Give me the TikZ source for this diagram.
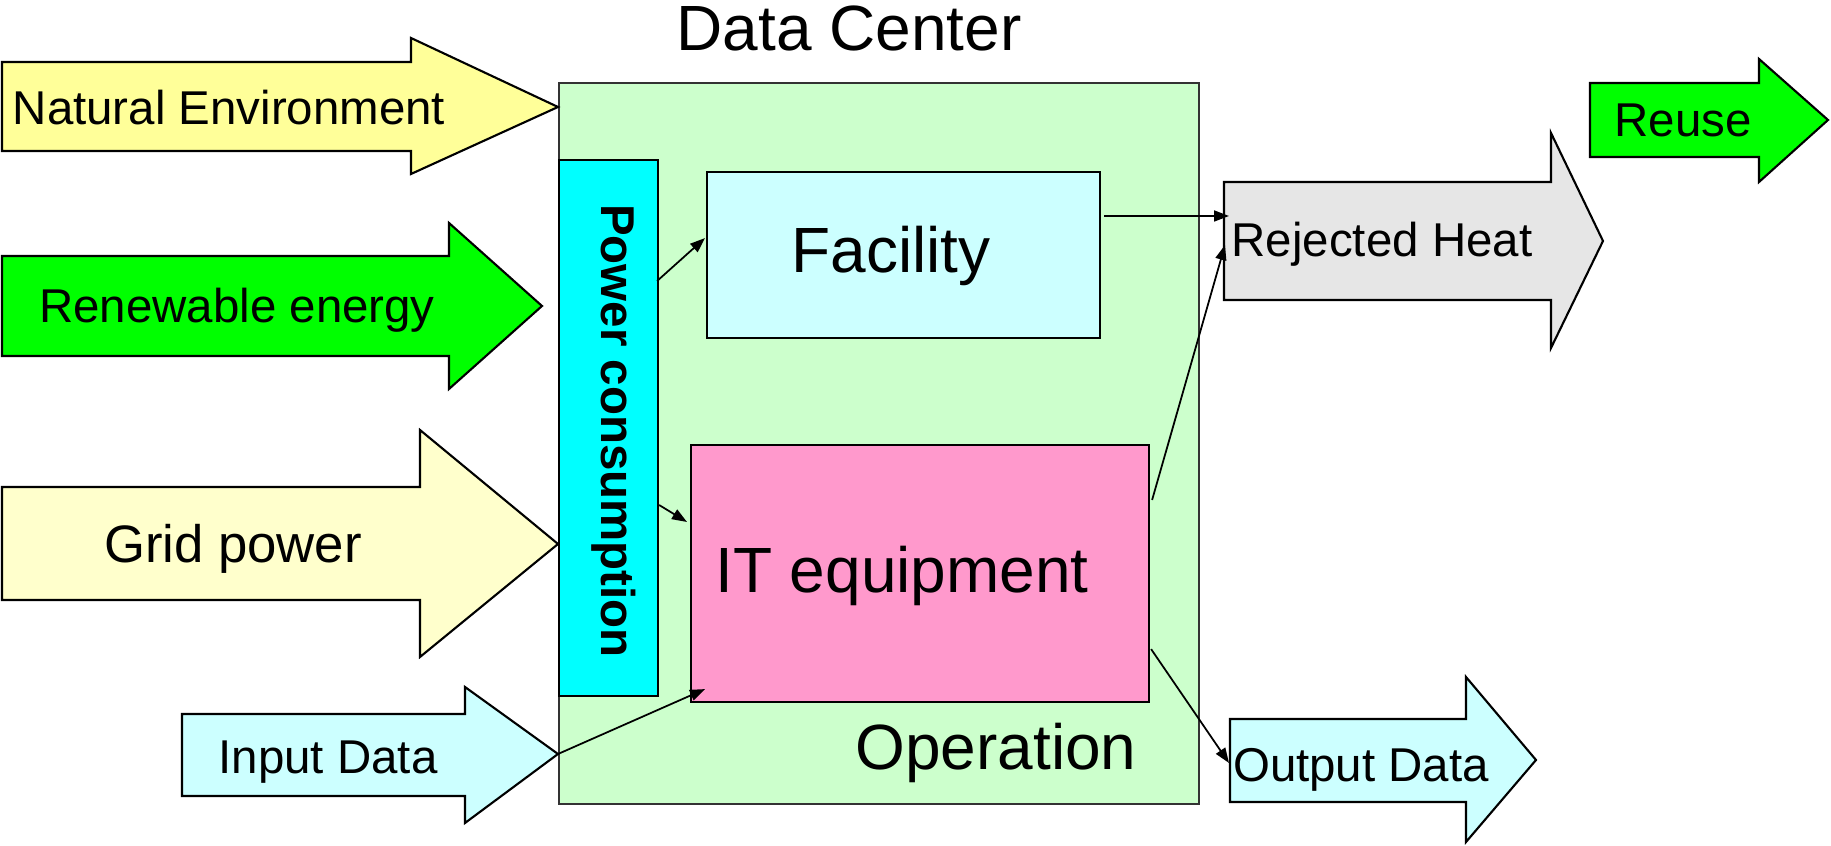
\documentclass[tikz,border=0pt]{standalone}
\usepackage{fontspec}
\setmainfont{Liberation Sans}
\usepackage{xcolor}
\usepackage{tikz}
\usetikzlibrary{arrows.meta,calc}

\definecolor{natyel}{HTML}{FFFF99}
\definecolor{gridyel}{HTML}{FFFFCC}
\definecolor{leafgreen}{HTML}{00FF00}
\definecolor{dcgreen}{HTML}{CCFFCC}
\definecolor{palecyan}{HTML}{CCFFFF}
\definecolor{pccyan}{HTML}{00FFFF}
\definecolor{itpink}{HTML}{FF99CC}
\definecolor{heatgray}{HTML}{E6E6E6}

\begin{document}
\begin{tikzpicture}[
  x=0.1mm, y=-0.1mm,
  box/.style={rectangle, draw=black, line width=0.6pt, fill=#1, inner sep=0pt, anchor=north west},
  flow/.style={draw=black, line width=0.6pt, fill=#1},
  big/.style={font=\fontsize{18.2}{22}\selectfont, inner sep=0pt, anchor=base},
  lab/.style={font=\fontsize{13.5}{16}\selectfont, inner sep=0pt, anchor=base},
  ar/.style={-{Triangle[length=1.5mm,width=1.1mm]}, line width=0.5pt}]
  \useasboundingbox (0,0) rectangle (1831,846);
  % data center and its parts
  \node[box=dcgreen, draw=black!80, minimum width=64mm, minimum height=72.1mm] (dc) at (558,82) {};
  \node[box=pccyan, minimum width=9.9mm, minimum height=53.6mm] (pc) at (558,159) {};
  \node[box=palecyan, minimum width=39.3mm, minimum height=16.6mm] (fac) at (706,171) {};
  \node[box=itpink, minimum width=45.8mm, minimum height=25.7mm] (it) at (690,444) {};
  % flows in and out
  \draw[flow=natyel] (2,62) -- (411,62) -- (411,38) -- (558,107) -- (411,174) -- (411,151) -- (2,151) -- cycle;
  \draw[flow=leafgreen] (2,256) -- (449,256) -- (449,223) -- (542,306) -- (449,389) -- (449,356) -- (2,356) -- cycle;
  \draw[flow=gridyel] (2,487) -- (420,487) -- (420,430) -- (558,544) -- (420,657) -- (420,600) -- (2,600) -- cycle;
  \draw[flow=palecyan] (182,714) -- (465,714) -- (465,687) -- (558,754) coordinate (inptip) -- (465,823) -- (465,796) -- (182,796) -- cycle;
  \draw[flow=heatgray] (1224,182) coordinate (rejnw) -- (1551,182) -- (1551,133) -- (1603,241) -- (1551,348) -- (1551,300) -- (1224,300) -- cycle;
  \draw[flow=leafgreen] (1590,83) -- (1759,83) -- (1759,59) -- (1828,120) -- (1759,182) -- (1759,157) -- (1590,157) -- cycle;
  \draw[flow=palecyan] (1230,719) coordinate (outnw) -- (1466,719) -- (1466,677) -- (1536,760) -- (1466,842) -- (1466,802) -- (1230,802) -- cycle;
  % labels
  \node[big] (title) at (849,51) {Data Center};
  \node[big] (facl) at (891,273) {Facility};
  \node[big] (itl) at (902,593) {IT equipment};
  \node[big] (opl) at (996,770) {Operation};
  \node[font=\bfseries\fontsize{13.5}{16}\selectfont, inner sep=0pt, rotate=-90] (pcl) at (614,431) {Power consumption};
  \node[lab] (nel) at (229,125) {Natural Environment};
  \node[lab] (renl) at (237,323) {Renewable energy};
  \node[lab, font=\fontsize{15}{18}\selectfont] (gridl) at (233,563) {Grid power};
  \node[lab] (inpl) at (328,774) {Input Data};
  \node[lab] (rejl) at (1382,257) {Rejected Heat};
  \node[lab] (reusel) at (1683,137) {Reuse};
  \node[lab] (outl) at (1361,782) {Output Data};
  % connectors
  \draw[ar] ($(pc.north east)+(-2,122)$) -- ($(fac.west)+(-1,-17)$);
  \draw[ar] ($(pc.north east)+(0,346)$) -- ($(it.north west)+(-3,78)$);
  \draw[ar] ($(fac.north east)+(3,45)$) -- ($(rejnw)+(5,34)$);
  \draw[ar] ($(it.north east)+(2,56)$) -- ($(rejnw)+(1,63)$);
  \draw[ar] ($(it.south east)+(1,-54)$) -- ($(outnw)+(-1,44)$);
  \draw[ar] (inptip) -- ($(it.south west)+(15,-14)$);
\end{tikzpicture}
\end{document}
